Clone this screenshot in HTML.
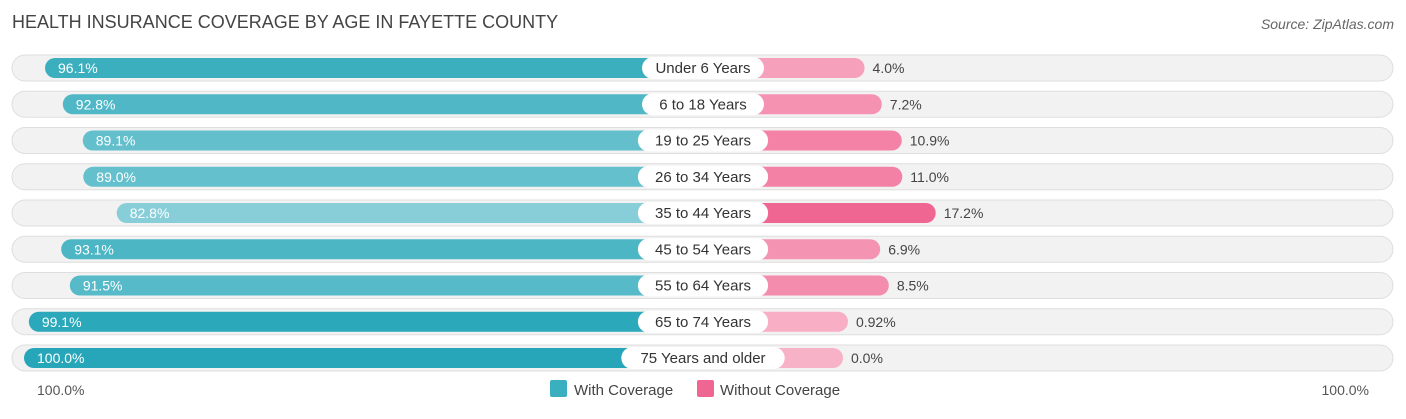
<!DOCTYPE html>
<html><head><meta charset="utf-8"><style>
body{margin:0;background:#fff;font-family:"Liberation Sans",sans-serif;}
svg text{font-family:"Liberation Sans",sans-serif;}
</style></head><body>
<svg id="chart" width="1406" height="414" xmlns="http://www.w3.org/2000/svg">
<text x="12" y="28" font-size="18" fill="#444">HEALTH INSURANCE COVERAGE BY AGE IN FAYETTE COUNTY</text>
<text x="1394" y="29" font-size="14" fill="#666" font-style="italic" text-anchor="end">Source: ZipAtlas.com</text>
<g id="rows"></g>
<text x="37" y="395" font-size="14" fill="#555">100.0%</text>
<text x="1369" y="395" font-size="14" fill="#555" text-anchor="end">100.0%</text>
<rect x="550" y="380" width="17" height="17" rx="2" fill="#3aafc0"/>
<text x="574" y="395" font-size="15" fill="#444">With Coverage</text>
<rect x="697" y="380" width="17" height="17" rx="2" fill="#f06692"/>
<text x="720" y="395" font-size="15" fill="#444">Without Coverage</text>
</svg>
<script>
const categories=["Under 6 Years","6 to 18 Years","19 to 25 Years","26 to 34 Years","35 to 44 Years","45 to 54 Years","55 to 64 Years","65 to 74 Years","75 Years and older"];
const withCoverage=[96.1,92.8,89.1,89.0,82.8,93.1,91.5,99.1,100.0];
const withoutCoverage=[4.0,7.2,10.9,11.0,17.2,6.9,8.5,0.92,0.0];
const withLabels=["96.1%","92.8%","89.1%","89.0%","82.8%","93.1%","91.5%","99.1%","100.0%"];
const withoutLabels=["4.0%","7.2%","10.9%","11.0%","17.2%","6.9%","8.5%","0.92%","0.0%"];
const NS="http://www.w3.org/2000/svg";
const cx=703, base=140, k=5.39;
const rowY=i=>68+i*36.25;
const w=v=>base+v*k;
function mix(a,b,t){t=Math.max(0,Math.min(1,t));return "rgb("+a.map((x,i)=>Math.round(x+(b[i]-x)*t)).join(",")+")";}
const tealCol=v=>mix([141,208,218],[38,166,184],(v-82)/18);
const pinkCol=v=>mix([248,178,200],[240,102,146],v/17.2);
const g=document.getElementById('rows');
function el(tag,attrs,parent){const e=document.createElementNS(NS,tag);for(const k in attrs)e.setAttribute(k,attrs[k]);parent.appendChild(e);return e;}
categories.forEach((c,i)=>{
  const y=rowY(i);
  const row=el('g',{},g);
  
  
  const bg=el('rect',{x:12,y:y-13,width:1381,height:26,rx:13,fill:'#f2f2f2',stroke:'#dedede','stroke-width':1},row);
  
  
  const lw=w(withCoverage[i]);
  const lb=el('rect',{x:cx-lw,y:y-10,width:lw,height:20,rx:10,fill:tealCol(withCoverage[i])},row);
  
  
  const rw=w(withoutCoverage[i]);
  const rb=el('rect',{x:cx,y:y-10,width:rw,height:20,rx:10,fill:pinkCol(withoutCoverage[i])},row);
  
  
  const lt=el('text',{x:cx-lw+13,y:y+5,'font-size':14,fill:'#fff'},row);
  lt.textContent=withLabels[i];
  
  
  const rt=el('text',{x:cx+rw+8,y:y+5,'font-size':14,fill:'#444'},row);
  rt.textContent=withoutLabels[i];
  
  
  const pw=c.length*8.3+14;
  const pill=el('rect',{x:cx-pw/2,y:y-11,width:pw,height:22,rx:11,fill:'#fff'},row);
  
  
  const ct=el('text',{x:cx,y:y+5,'font-size':15,fill:'#333','text-anchor':'middle'},row);
  ct.textContent=c;
  
  
});
</script>
</body></html>
